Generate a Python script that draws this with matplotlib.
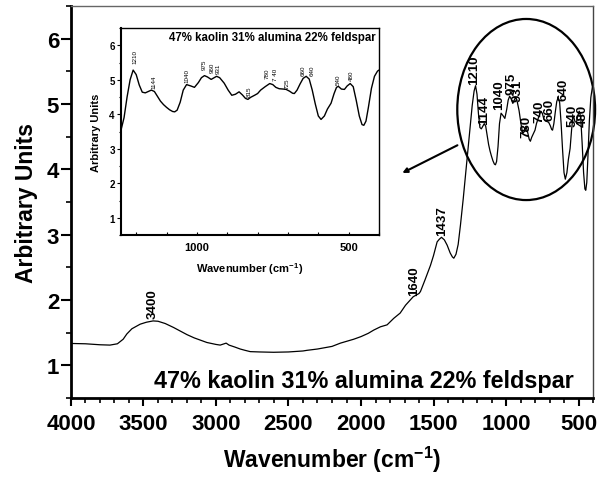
import numpy as np
import matplotlib
matplotlib.use("Agg")
from matplotlib import pyplot as plt
from matplotlib.patches import Ellipse
from matplotlib.ticker import MultipleLocator

plt.rcParams['font.family'] = ['Liberation Sans', 'DejaVu Sans']
plt.rcParams['mathtext.fontset'] = 'custom'
plt.rcParams['mathtext.bf'] = 'Liberation Sans:bold'
plt.rcParams['mathtext.rm'] = 'Liberation Sans'

# high wavenumber part of the spectrum (main plot only)
wn_high = [4000, 3900, 3800, 3731, 3680, 3640, 3615, 3580, 3523, 3480, 3434, 3400,
           3350, 3293, 3250, 3200, 3150, 3100, 3063, 3000, 2971, 2945, 2930, 2910,
           2870, 2833, 2800, 2764, 2700, 2603, 2500, 2400, 2372, 2300, 2200, 2142,
           2050, 2000, 1950, 1912, 1866, 1820, 1774, 1730, 1693, 1660, 1640, 1624,
           1600, 1590, 1560, 1521, 1500, 1475, 1460, 1445, 1425, 1406, 1385, 1370,
           1360, 1345, 1330, 1314, 1295, 1280, 1267, 1250, 1233, 1220]
ab_high = [1.335, 1.33, 1.315, 1.31, 1.33, 1.40, 1.48, 1.56, 1.63, 1.66, 1.68, 1.675,
           1.64, 1.58, 1.53, 1.47, 1.42, 1.38, 1.35, 1.32, 1.31, 1.33, 1.34, 1.31,
           1.28, 1.25, 1.23, 1.21, 1.205, 1.20, 1.205, 1.22, 1.23, 1.25, 1.29, 1.34,
           1.40, 1.44, 1.49, 1.54, 1.59, 1.62, 1.72, 1.80, 1.92, 2.00, 2.05, 2.07,
           2.10, 2.13, 2.30, 2.53, 2.68, 2.89, 2.93, 2.96, 2.92, 2.84, 2.72, 2.66,
           2.64, 2.70, 2.85, 3.15, 3.55, 3.90, 4.20, 4.60, 4.98, 5.20]

# fingerprint region (shared by main plot and inset)
wn_fp = [1210, 1200, 1190, 1180, 1170, 1160, 1150, 1140, 1130, 1120, 1110, 1100,
         1090, 1080, 1073, 1065, 1055, 1045, 1034, 1020, 1008, 995, 985, 975, 965,
         953, 945, 935, 925, 910, 897, 885, 873, 861, 850, 840, 832, 823, 810, 800,
         790, 775, 760, 750, 740, 729, 715, 706, 695, 685, 679, 670, 660, 650, 640,
         630, 620, 610, 600, 591, 580, 570, 558, 548, 540, 534, 524, 514, 505, 495,
         485, 475, 465, 456, 450, 443, 435, 425, 415, 405, 400]
ab_fp = [5.28, 5.15, 4.85, 4.64, 4.62, 4.66, 4.70, 4.66, 4.52, 4.38, 4.28, 4.20,
         4.13, 4.08, 4.07, 4.12, 4.35, 4.70, 4.86, 4.82, 4.78, 4.92, 5.06, 5.12, 5.08,
         5.01, 5.05, 5.10, 5.06, 4.90, 4.70, 4.55, 4.58, 4.65, 4.56, 4.46, 4.43, 4.49,
         4.55, 4.60, 4.70, 4.80, 4.89, 4.86, 4.78, 4.74, 4.73, 4.72, 4.67, 4.61, 4.60,
         4.70, 4.88, 5.04, 5.10, 5.02, 4.70, 4.30, 3.95, 3.85, 3.95, 4.15, 4.32, 4.60,
         4.78, 4.81, 4.73, 4.72, 4.82, 4.89, 4.80, 4.40, 3.95, 3.70, 3.68, 3.80, 4.20,
         4.75, 5.10, 5.25, 5.28]

# start of the inset trace (baseline differs slightly from main)
wn_inset_start = [1250, 1240, 1230, 1220]
ab_inset_start = [3.54, 3.90, 4.50, 5.00]

sample = "47% kaolin 31% alumina 22% feldspar"

# peak labels on the main plot: text, x, y
main_peaks = ["3400", "1640", "1437", "1210", "1144", "1040", "975", "931",
              "780", "740", "660", "640", "540", "480"]
main_peak_x = [3434, 1636, 1440, 1222, 1152, 1049, 964, 922, 858, 773, 697, 604, 542, 473]
main_peak_y = [1.72, 2.07, 2.99, 5.31, 4.70, 4.93, 5.16, 5.04, 4.50, 4.73, 4.75, 5.06, 4.67, 4.67]

# peak labels on the inset
inset_peaks = ["1210", "1144", "1040", "975", "960", "931", "815", "780", "7 40",
               "725", "660", "640", "540", "480"]
inset_peak_x = [1205, 1141, 1034, 975, 951, 929, 829, 767, 740, 702, 650, 619, 535, 490]
inset_peak_y = [5.49, 4.75, 4.94, 5.30, 5.23, 5.20, 4.54, 5.04, 4.99, 4.77, 5.13, 5.15, 4.89, 4.99]

fig = plt.figure(figsize=(6.13, 4.85), dpi=100)
ax = fig.add_axes([0.1158, 0.1773, 0.8516, 0.8082])

ax.plot(wn_high + wn_fp, ab_high + ab_fp, color='black', lw=0.9)
ax.set_xlim(4000, 400)
ax.set_ylim(0.5, 6.5)
ax.xaxis.set_major_locator(MultipleLocator(500))
ax.xaxis.set_minor_locator(MultipleLocator(100))
ax.yaxis.set_major_locator(MultipleLocator(1))
ax.yaxis.set_minor_locator(MultipleLocator(0.5))
ax.tick_params(which='major', direction='out', length=6, width=1.5, labelsize=16, pad=5)
ax.tick_params(which='minor', direction='out', length=3.5, width=1.2)
ax.tick_params(axis='y', which='major', length=7, pad=1.5)
for lab in ax.get_xticklabels() + ax.get_yticklabels():
    lab.set_fontweight('bold')
ax.spines['left'].set_linewidth(2)
ax.spines['bottom'].set_linewidth(2)
ax.spines['top'].set_linewidth(1)
ax.spines['right'].set_linewidth(1)
ax.spines['top'].set_color('#666666')
ax.spines['right'].set_color('#444444')
ax.set_xlabel('Wavenumber (cm$^{\\mathbf{-1}}$)', fontsize=16.5, fontweight='bold', labelpad=7)
ax.set_ylabel('Arbitrary Units', fontsize=16.5, fontweight='bold', labelpad=6)

for t, x, y in zip(main_peaks, main_peak_x, main_peak_y):
    ax.text(x, y, t, rotation=90, ha='center', va='bottom', fontsize=9.5, fontweight='bold')

ax.text(0.561, 0.045, sample, transform=ax.transAxes, ha='center', va='center',
        fontsize=16.8, fontweight='bold')

ell = Ellipse((0.872, 0.736), 0.264, 0.462, transform=ax.transAxes, fill=False,
              edgecolor='black', lw=1.6, clip_on=False)
ax.add_patch(ell)
ax.annotate('', xy=(0.630, 0.571), xytext=(0.745, 0.648), xycoords='axes fraction',
            textcoords='axes fraction',
            arrowprops=dict(arrowstyle='-|>', color='black', lw=1.5, mutation_scale=7))

# inset
ins = fig.add_axes([0.1974, 0.5134, 0.4209, 0.4268])
ins.plot(wn_inset_start + wn_fp, ab_inset_start + ab_fp, color='black', lw=1.0)
ins.set_xlim(1250, 400)
ins.set_ylim(0.5, 6.5)
ins.set_xticks([1000, 500])
ins.xaxis.set_minor_locator(MultipleLocator(100))
ins.yaxis.set_major_locator(MultipleLocator(1))
ins.yaxis.set_minor_locator(MultipleLocator(0.5))
ins.tick_params(axis='x', which='both', direction='in', length=2.5, width=0.8, labelsize=8, pad=5)
ins.tick_params(axis='y', which='major', direction='out', length=3, width=0.8, labelsize=7, pad=1.5)
ins.tick_params(axis='y', which='minor', direction='out', length=1.8, width=0.8)
for lab in ins.get_xticklabels() + ins.get_yticklabels():
    lab.set_fontweight('bold')
for s in ins.spines.values():
    s.set_linewidth(1.0)
ins.spines['left'].set_linewidth(1.5)
ins.spines['bottom'].set_linewidth(1.5)
ins.set_xlabel('Wavenumber (cm$^{\\mathbf{-1}}$)', fontsize=8, fontweight='bold', labelpad=6)
ins.set_ylabel('Arbitrary Units', fontsize=8, fontweight='bold', labelpad=6)
ins.text(0.585, 0.957, sample, transform=ins.transAxes, ha='center', va='center',
         fontsize=8.3, fontweight='bold')
for t, x, y in zip(inset_peaks, inset_peak_x, inset_peak_y):
    ins.text(x, y, t, rotation=90, ha='center', va='bottom', fontsize=4.5)

fig.savefig('out.png', dpi=100)
